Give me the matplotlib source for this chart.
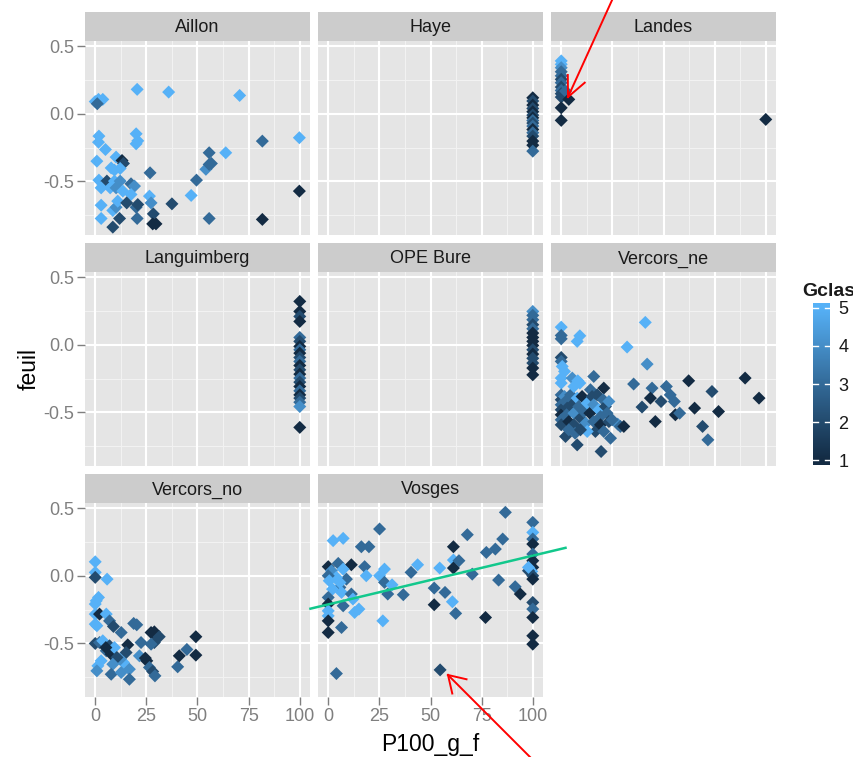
import numpy as np
import matplotlib
matplotlib.use("Agg")
import matplotlib.pyplot as plt
from matplotlib.colors import LinearSegmentedColormap, Normalize
from matplotlib.lines import Line2D

plt.rcParams['font.family'] = ['Liberation Sans', 'DejaVu Sans']

# ---------------- data ----------------
facets = ["Aillon", "Haye", "Landes", "Languimberg", "OPE Bure",
          "Vercors_ne", "Vercors_no", "Vosges"]

aillon_x = [0, 1.6, 3.7, 1, 20.5, 35.9, 70.6, 1.8, 1.6, 5, 20, 20, 20.8, 0.8, 10.2, 13.1, 13.8,
            7.8, 9.4, 12.2, 1.8, 5.7, 9.4, 12.2, 17.5, 19.2, 2.9, 7.3, 10.2, 13.5, 17.5, 2.9, 8.6,
            10.2, 11, 15.4, 20, 20.8, 2.9, 11.9, 20.5, 8.6, 26.8, 26.5, 27.3, 28.4, 28.1, 29.7,
            37.5, 46.9, 49.5, 54.1, 55.7, 56.8, 55.7, 63.8, 55.7, 81.7, 81.7, 99.8, 99.8]
aillon_y = [0.09, 0.106, 0.106, 0.074, 0.18, 0.16, 0.135, -0.165, -0.21, -0.264, -0.148, -0.222,
            -0.2, -0.35, -0.32, -0.345, -0.367, -0.40, -0.416, -0.404, -0.49, -0.497, -0.497,
            -0.497, -0.517, -0.534, -0.547, -0.547, -0.547, -0.571, -0.596, -0.675, -0.714,
            -0.69, -0.645, -0.658, -0.69, -0.67, -0.773, -0.773, -0.773, -0.837, -0.436, -0.608,
            -0.658, -0.739, -0.813, -0.813, -0.665, -0.603, -0.49, -0.41, -0.374, -0.367, -0.288,
            -0.288, -0.773, -0.202, -0.78, -0.177, -0.571]
aillon_g = [5, 5, 5, 3, 5, 5, 5, 5, 5, 5, 5, 5, 5, 5, 5, 1, 2, 5, 5, 5, 5, 2, 5, 4, 3, 4, 5, 5,
            4, 5, 5, 5, 5, 4, 5, 2, 3, 2, 5, 2, 3, 2, 3, 5, 4, 2, 1, 1, 2, 5, 3, 4, 3, 3, 3, 5,
            3, 3, 1, 5, 1]

haye_x = [100] * 16
haye_y = [0.118, 0.094, 0.064, 0.039, 0.015, -0.01, -0.03, -0.05, -0.069, -0.091, -0.116,
          -0.14, -0.165, -0.202, -0.232, -0.276]
haye_g = [1, 2, 1, 2, 1, 2, 1, 3, 2, 3, 1, 3, 2, 1, 1, 3]

landes_x = [0, 0, 0, 0, 0, 0, 0, 0, 0, 0, 0, 2.1, 3.7, 0, 0, 100]
landes_y = [0.39, 0.365, 0.34, 0.31, 0.28, 0.254, 0.229, 0.197, 0.172, 0.148, 0.123, 0.167,
            0.106, 0.044, -0.049, -0.042]
landes_g = [5, 5, 4, 3, 3, 2, 3, 2, 3, 2, 2, 3, 1, 1, 1, 1]

langu_x = [100] * 23
langu_y = [0.32, 0.246, 0.209, 0.172, 0.054, 0.025, -0.012, -0.037, -0.062, -0.094, -0.123,
           -0.153, -0.185, -0.217, -0.246, -0.276, -0.308, -0.34, -0.37, -0.394, -0.424,
           -0.456, -0.61]
langu_g = [1, 1, 2, 1, 3, 2, 1, 3, 1, 2, 3, 1, 2, 1, 3, 2, 1, 3, 1, 2, 3, 4, 1]

ope_x = [100] * 15
ope_y = [0.246, 0.217, 0.185, 0.148, 0.118, 0.086, 0.054, 0.025, -0.005, -0.037, -0.069,
         -0.1, -0.135, -0.172, -0.222]
ope_g = [4, 3, 3, 2, 3, 1, 1, 1, 1, 2, 1, 2, 2, 1, 1]

vne_x = [0, 0, 0, 7.8, 9.1, 41.1, 32.2, 42, 0, 0, 0.5, 1.6, 0, 0, 5.4, 8.1, 9.1, 15.9, 20.8,
         35.4, 44.4, 51.4, 62.3, 73.7, 89.9, 96.7, 39.5, 43.6, 48.8, 53.3, 55.3, 55.8, 57.9,
         65.2, 76.9, 46, 69.1, 71.7, 27.6, 28.9, 30.6, 2.1, 7.8, 19.5, 24.1,
         0, 0, 0, 0, 0, 0, 0, 1.6, 2.1, 2.9, 2.6, 3.7, 4.6, 5.4, 6.2, 6.2, 7.8, 8.6, 9.4,
         10.2, 11.1, 12, 12.7, 14, 14.3, 15.1, 15.9, 15.9, 16.7, 17.6, 18.4, 19.2, 19.2, 20.5,
         20.8, 21.6, 22.4, 23.3, 23.3, 24.9, 3.7, 6.8, 12.7, 9.4, 6.2]
vne_y = [0.13, 0.069, 0.044, 0.025, 0.066, 0.165, -0.017, -0.143, -0.094, -0.123, -0.16,
         -0.197, -0.246, -0.283, -0.246, -0.266, -0.283, -0.234, -0.32, -0.29, -0.32, -0.308,
         -0.266, -0.345, -0.246, -0.394, -0.46, -0.394, -0.419, -0.37, -0.419, -0.517, -0.505,
         -0.468, -0.493, -0.567, -0.603, -0.702, -0.586, -0.603, -0.603, -0.677, -0.739,
         -0.788, -0.69,
         -0.37, -0.406, -0.443, -0.48, -0.517, -0.554, -0.591, -0.382, -0.419, -0.468, -0.517,
         -0.567, -0.37, -0.443, -0.505, -0.591, -0.394, -0.456, -0.542, -0.382, -0.493,
         -0.579, -0.431, -0.505, -0.332, -0.382, -0.443, -0.567, -0.64, -0.37, -0.48, -0.53,
         -0.591, -0.406, -0.64, -0.456, -0.505, -0.419, -0.567, -0.554, -0.628, -0.653, -0.64,
         -0.628, -0.308]
vne_g = [5, 3, 3, 5, 5, 5, 5, 4, 2, 3, 5, 5, 5, 5, 4, 5, 5, 3, 1, 3, 3, 3, 1, 2, 1, 1, 2, 1,
         2, 3, 3, 1, 3, 1, 1, 1, 2, 3, 4, 3, 1, 2, 2, 2, 3,
         3, 2, 3, 2, 1, 3, 2, 4, 3, 2, 3, 1, 3, 2, 4, 2, 5, 3, 2, 1, 3, 4, 5, 1, 3, 2, 4, 3,
         2, 2, 5, 3, 1, 3, 3, 2, 3, 4, 2, 3, 3, 3, 5, 2, 5]

vno_x = [0, 0, 0, 5.8, 1.6, 0.5, 0, 0, 2.1, 0, 0.8, 5.4, 7, 8.9, 0, 2.1, 3.7, 7, 5.4, 7.8,
         9.4, 12.7, 15.9, 15.1, 13.8, 12.2, 10.6, 2.9, 1.3, 0.8, 8.6, 7.8, 12.7, 16.7, 16.7,
         18.8, 20.3, 22.4, 21.6, 24.5, 25.2, 27.3, 28.9, 30, 31.3, 28.9, 26.5, 28.1, 29.2,
         40.3, 41.1, 44.8, 49.2, 49.2, 27.3, 5.2]
vno_y = [0.103, 0.025, -0.012, -0.025, -0.16, -0.185, -0.209, -0.283, -0.283, -0.357, -0.369,
         -0.283, -0.333, -0.374, -0.5, -0.493, -0.48, -0.517, -0.554, -0.579, -0.53, -0.419,
         -0.51, -0.567, -0.64, -0.616, -0.603, -0.628, -0.665, -0.702, -0.653, -0.727, -0.714,
         -0.69, -0.764, -0.352, -0.362, -0.493, -0.591, -0.608, -0.628, -0.419, -0.414,
         -0.443, -0.45, -0.493, -0.677, -0.707, -0.739, -0.672, -0.591, -0.544, -0.45, -0.586,
         -0.505, -0.53]
vno_g = [5, 5, 2, 5, 5, 5, 5, 5, 1, 5, 5, 5, 3, 2, 2, 3, 5, 2, 3, 1, 5, 3, 1, 2, 5, 4, 2, 5,
         5, 4, 4, 3, 4, 4, 3, 3, 3, 3, 4, 1, 1, 1, 1, 1, 2, 2, 3, 2, 3, 3, 1, 3, 1, 1, 3, 1]

vos_x = [86.6, 100, 100, 100, 100, 100, 100, 99.5, 100, 100, 97.9, 100, 100, 100, 100, 100,
         25.1, 2.4, 7.3, 16.2, 19.9, 61.2, 68, 77.3, 81.7, 85.3, 61.2, 63.9, 61.2, 70.4, 54.5,
         43.7, 40.5, 0, 11.3, 4.9, 1.6, 7.3, 8.9, 4, 5.7, 2.1, 6.5, 17.8, 18.6, 27.5, 25.1,
         27.5, 31.2, 29.1, 36.7, 0, 0, 0, 0, 0, 0, 11.3, 12.1, 7.3, 12.9, 15, 6.5, 26.7, 51.8,
         57.1, 51.8, 60.7, 62.3, 76.9, 83.3, 91.4, 93.9, 4, 54.7, 100, 97.9, 0, 0.5, 5.7]
vos_y = [0.468, 0.394, 0.32, 0.271, 0.234, 0.16, 0.062, 0.032, 0, -0.025, 0.037, -0.197,
         -0.246, -0.308, -0.443, -0.505, 0.345, 0.259, 0.276, 0.214, 0.214, 0.214, 0.303,
         0.172, 0.197, 0.271, 0.116, 0.111, 0.057, 0.012, 0.057, 0.081, 0.025, 0.067, 0.081,
         0.091, 0.037, 0.049, -0.025, -0.012, -0.086, -0.099, -0.123, 0.067, 0, 0.049, 0,
         -0.049, -0.067, -0.135, -0.14, -0.16, -0.209, -0.259, -0.296, -0.333, -0.419, -0.135,
         -0.172, -0.222, -0.271, -0.246, -0.382, -0.333, -0.091, -0.123, -0.214, -0.192,
         -0.278, -0.308, -0.032, -0.081, -0.135, -0.722, -0.695, 0.111, 0.062, 0, -0.037,
         -0.05]
vos_g = [3, 3, 5, 3, 1, 3, 1, 5, 2, 1, 2, 2, 3, 1, 1, 1, 3, 5, 5, 3, 3, 1, 3, 3, 3, 3, 5, 3,
         1, 3, 5, 5, 3, 1, 1, 3, 4, 5, 3, 5, 3, 5, 5, 3, 5, 5, 5, 3, 5, 3, 3, 3, 1, 5, 5, 1,
         1, 3, 5, 3, 5, 5, 3, 5, 3, 3, 1, 5, 3, 1, 3, 3, 1, 3, 2, 1, 5, 3, 5, 5]

data = {
    "Aillon": (aillon_x, aillon_y, aillon_g),
    "Haye": (haye_x, haye_y, haye_g),
    "Landes": (landes_x, landes_y, landes_g),
    "Languimberg": (langu_x, langu_y, langu_g),
    "OPE Bure": (ope_x, ope_y, ope_g),
    "Vercors_ne": (vne_x, vne_y, vne_g),
    "Vercors_no": (vno_x, vno_y, vno_g),
    "Vosges": (vos_x, vos_y, vos_g),
}

x_ticks = [0, 25, 50, 75, 100]
x_ticklabels = ["0", "25", "50", "75", "100"]
y_ticks = [-0.5, 0.0, 0.5]
y_ticklabels = ["-0.5", "0.0", "0.5"]
g_ticks = [1, 2, 3, 4, 5]

# ---------------- style ----------------
W, H = 854, 757
fig = plt.figure(figsize=(W / 100, H / 100), dpi=100)
cmap = LinearSegmentedColormap.from_list("gg", ["#132B43", "#336A98", "#56B1F7"])
norm = Normalize(1, 5)

col_left = [85, 318, 551]
panel_w = 225
row_top = [41, 272, 503]
panel_h = 194
strip_h = 29

def fx(px):
    return px / W

def fy(py):
    return 1 - py / H

for i, name in enumerate(facets):
    r, c = divmod(i, 3)
    L, T = col_left[c], row_top[r]
    ax = fig.add_axes([fx(L), fy(T + panel_h), panel_w / W, panel_h / H])
    ax.set_facecolor("#E5E5E5")
    ax.set_xlim(-5, 105)
    ax.set_ylim(-0.895, 0.537)
    for s in ax.spines.values():
        s.set_visible(False)
    for v in [12.5, 37.5, 62.5, 87.5]:
        ax.axvline(v, color="#F2F2F2", lw=0.8, zorder=0)
    for v in [-0.75, -0.25, 0.25]:
        ax.axhline(v, color="#F2F2F2", lw=0.8, zorder=0)
    for v in x_ticks:
        ax.axvline(v, color="white", lw=1.5, zorder=0.5)
    for v in y_ticks:
        ax.axhline(v, color="white", lw=1.5, zorder=0.5)
    xs, ys, gs = data[name]
    ax.scatter(xs, ys, c=gs, cmap=cmap, norm=norm, marker="D", s=44,
               linewidths=0, zorder=3)
    ax.set_xticks(x_ticks)
    ax.set_yticks(y_ticks)
    ax.tick_params(colors="#7F7F7F", labelcolor="#7F7F7F", labelsize=13,
                   length=6, width=1, pad=2)
    if c == 0:
        ax.set_yticklabels(y_ticklabels)
    else:
        ax.tick_params(axis="y", left=False, labelleft=False)
    if r == 2:
        ax.set_xticklabels(x_ticklabels)
    else:
        ax.tick_params(axis="x", bottom=False, labelbottom=False)
    # strip
    sax = fig.add_axes([fx(L), fy(T), panel_w / W, strip_h / H])
    sax.set_facecolor("#CCCCCC")
    sax.set_xticks([]); sax.set_yticks([])
    for s in sax.spines.values():
        s.set_visible(False)
    sax.text(0.5, 0.45, name, ha="center", va="center", fontsize=13, color="#1A1A1A",
             transform=sax.transAxes)
    if name == "Vosges":
        # green trend line annotation
        ax.plot([-8.7, 116], [-0.243, 0.206], color="#12C88C", lw=1.8, clip_on=False, zorder=5)

# axis titles
fig.text(fx(29), fy(369), "feuil", rotation=90, ha="center", va="center", fontsize=16.5)
fig.text(fx(430), fy(744), "P100_g_f", ha="center", va="center", fontsize=16.5)

# colourbar legend
cax = fig.add_axes([fx(813), fy(465), 17 / W, 162 / H])
grad = np.linspace(0.88, 5.12, 256).reshape(-1, 1)
cax.imshow(grad, aspect="auto", cmap=cmap, norm=norm, origin="lower",
           extent=(0, 1, 0.88, 5.12))
cax.set_xlim(0, 1)
cax.set_ylim(0.88, 5.12)
for s in cax.spines.values():
    s.set_visible(False)
cax.set_xticks([])
cax.yaxis.tick_right()
cax.set_yticks(g_ticks)
cax.set_yticklabels([str(v) for v in g_ticks])
cax.tick_params(axis="y", length=0, labelsize=13, labelcolor="#1A1A1A", pad=6)
for v in g_ticks:
    cax.plot([0, 0.3], [v, v], color="white", lw=1)
    cax.plot([0.7, 1], [v, v], color="white", lw=1)
fig.text(fx(802), fy(292), "Gclas", ha="left", va="center", fontsize=14,
         fontweight="bold", color="#1A1A1A")

# red arrow annotations (figure pixel coordinates, y from top)
def arrow(tail, tip, head_len=20, ang=27):
    tx, ty = tail
    hx, hy = tip
    d = np.array([tx - hx, ty - hy], dtype=float)
    d /= np.hypot(*d)
    fig.add_artist(Line2D([fx(tx), fx(hx)], [fy(ty), fy(hy)], color="red", lw=1.4))
    for a in (ang, -ang):
        t = np.deg2rad(a)
        rot = np.array([[np.cos(t), -np.sin(t)], [np.sin(t), np.cos(t)]])
        e = rot @ d * head_len
        fig.add_artist(Line2D([fx(hx), fx(hx + e[0])], [fy(hy), fy(hy + e[1])],
                              color="red", lw=1.4))

arrow((613, -2), (568, 97), head_len=22, ang=25)
arrow((530, 757), (448, 675), head_len=19, ang=32)

fig.savefig("out.png", dpi=100)
